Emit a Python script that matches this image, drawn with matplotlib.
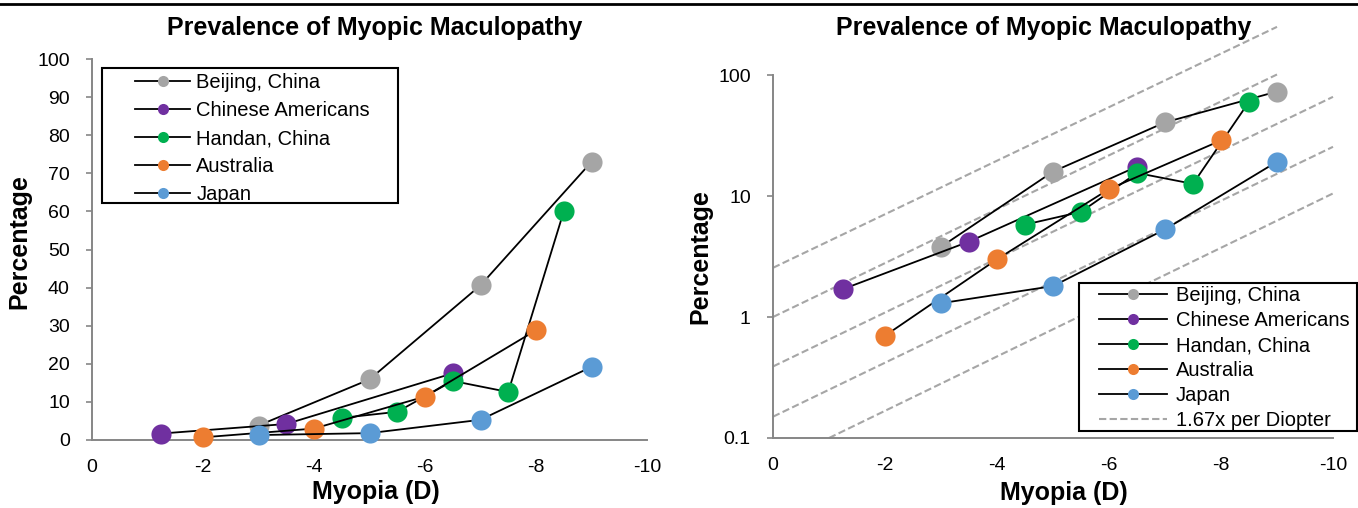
import matplotlib.pyplot as plt
from matplotlib.lines import Line2D
from matplotlib.patches import Rectangle
from matplotlib.ticker import NullLocator

plt.rcParams['font.family'] = ['Liberation Sans', 'DejaVu Sans']
plt.rcParams['axes.unicode_minus'] = False

groups = ['Beijing, China', 'Chinese Americans', 'Handan, China', 'Australia', 'Japan']
colors = ['#A5A5A5', '#7030A0', '#00B050', '#ED7D31', '#5B9BD5']

beijing_x = [-3, -5, -7, -9]
beijing_y = [3.8, 15.9, 40.6, 73.0]
chinese_am_x = [-1.25, -3.5, -6.5]
chinese_am_y = [1.7, 4.2, 17.5]
handan_x = [-4.5, -5.5, -6.5, -7.5, -8.5]
handan_y = [5.8, 7.4, 15.5, 12.6, 60.0]
australia_x = [-2, -4, -6, -8]
australia_y = [0.7, 3.0, 11.4, 28.8]
japan_x = [-3, -5, -7, -9]
japan_y = [1.3, 1.8, 5.3, 19.2]

# guide lines (1.67x per diopter): start and end points
guide_x0 = [0, 0, 0, 0, -1]
guide_y0 = [2.55, 1.0, 0.39, 0.15, 0.1]
guide_x1 = [-9, -9, -10, -10, -10]
guide_y1 = [250, 101, 66, 25.5, 10.5]

x_ticks = [0, -2, -4, -6, -8, -10]
lin_ticks = [0, 10, 20, 30, 40, 50, 60, 70, 80, 90, 100]
log_ticks = [0.1, 1, 10, 100]
log_labels = ['0.1', '1', '10', '100']

series = [(beijing_x, beijing_y), (chinese_am_x, chinese_am_y), (handan_x, handan_y),
          (australia_x, australia_y), (japan_x, japan_y)]

W, H = 1358, 508
fig = plt.figure(figsize=(W / 100, H / 100), dpi=100)

ax1 = fig.add_axes([92 / W, 1 - 440 / H, 555 / W, 381 / H])
ax2 = fig.add_axes([773 / W, 1 - 438 / H, 560 / W, 363 / H])

spine_col = '#868686'
guide_col = '#A6A6A6'

for ax in (ax1, ax2):
    for (xs, ys), c in zip(series, colors):
        ax.plot(xs, ys, color='black', lw=1.3, marker='o', ms=14.5,
                mfc=c, mec=c, mew=0, zorder=3, clip_on=False)
    ax.set_xlim(0, -10)
    ax.set_xticks(x_ticks)
    ax.set_xticklabels([str(t) for t in x_ticks])
    for s in ('top', 'right'):
        ax.spines[s].set_visible(False)
    for s in ('left', 'bottom'):
        ax.spines[s].set_color(spine_col)
        ax.spines[s].set_linewidth(1.4)
    ax.tick_params(axis='x', length=0, pad=14, labelsize=14)
    ax.tick_params(axis='y', length=4, width=1.2, color=spine_col, pad=12, labelsize=14)
    ax.set_xlabel('Myopia (D)', fontsize=18, fontweight='bold', va='center')
    ax.set_ylabel('Percentage', fontsize=18, fontweight='bold', va='center')

ax1.set_ylim(0, 100)
ax1.set_yticks(lin_ticks)
ax1.xaxis.set_label_coords(0.512, -0.136)
ax1.yaxis.set_label_coords(-0.13, 0.52)

ax2.set_yscale('log')
ax2.set_ylim(0.1, 100)
ax2.set_yticks(log_ticks)
ax2.set_yticklabels(log_labels)
ax2.yaxis.set_minor_locator(NullLocator())
ax2.xaxis.set_label_coords(0.52, -0.152)
ax2.yaxis.set_label_coords(-0.129, 0.499)

for x0, y0, x1, y1 in zip(guide_x0, guide_y0, guide_x1, guide_y1):
    ax2.plot([x0, x1], [y0, y1], color=guide_col, lw=1.5, ls=(0, (3.5, 1.6)),
             zorder=2, clip_on=False)

fig.text(375 / W, 1 - 28 / H, 'Prevalence of Myopic Maculopathy',
         ha='center', va='center', fontsize=18, fontweight='bold')
fig.text(1044 / W, 1 - 28 / H, 'Prevalence of Myopic Maculopathy',
         ha='center', va='center', fontsize=18, fontweight='bold')

# top rule
fig.add_artist(Line2D([0, 1], [1 - 4 / H, 1 - 4 / H], color='black', lw=2,
                      transform=fig.transFigure))

handles = [Line2D([], [], color='black', lw=1.3, marker='o', ms=8, mfc=c, mec=c, mew=0)
           for c in colors]

# left legend with box
ax1.add_patch(Rectangle((10 / 555, (440 - 203) / 381), 296 / 555, 135 / 381,
                        transform=ax1.transAxes, fc='white', ec='black', lw=1.5,
                        zorder=4, clip_on=False))
leg1 = ax1.legend(handles, groups, loc='upper left', frameon=False,
                  bbox_to_anchor=((135 - 92) / 555, (440 - 73) / 381),
                  borderpad=0, borderaxespad=0, handlelength=2.75, handletextpad=0.3,
                  labelspacing=0.45, fontsize=14.5)
leg1.set_zorder(5)

guide_handle = Line2D([], [], color=guide_col, lw=1.5, ls=(0, (3.5, 1.6)))
ax2.add_patch(Rectangle(((1079 - 773) / 560, (438 - 431) / 363), 278 / 560, 148 / 363,
                        transform=ax2.transAxes, fc='white', ec='black', lw=1.5,
                        zorder=4, clip_on=False))
leg2 = ax2.legend(handles + [guide_handle], groups + ['1.67x per Diopter'],
                  loc='upper left', frameon=False,
                  bbox_to_anchor=((1099 - 773) / 560, (438 - 286) / 363),
                  borderpad=0, borderaxespad=0, handlelength=3.4, handletextpad=0.4,
                  labelspacing=0.3, fontsize=14.5)
leg2.set_zorder(5)

fig.savefig('out.png', dpi=100)
